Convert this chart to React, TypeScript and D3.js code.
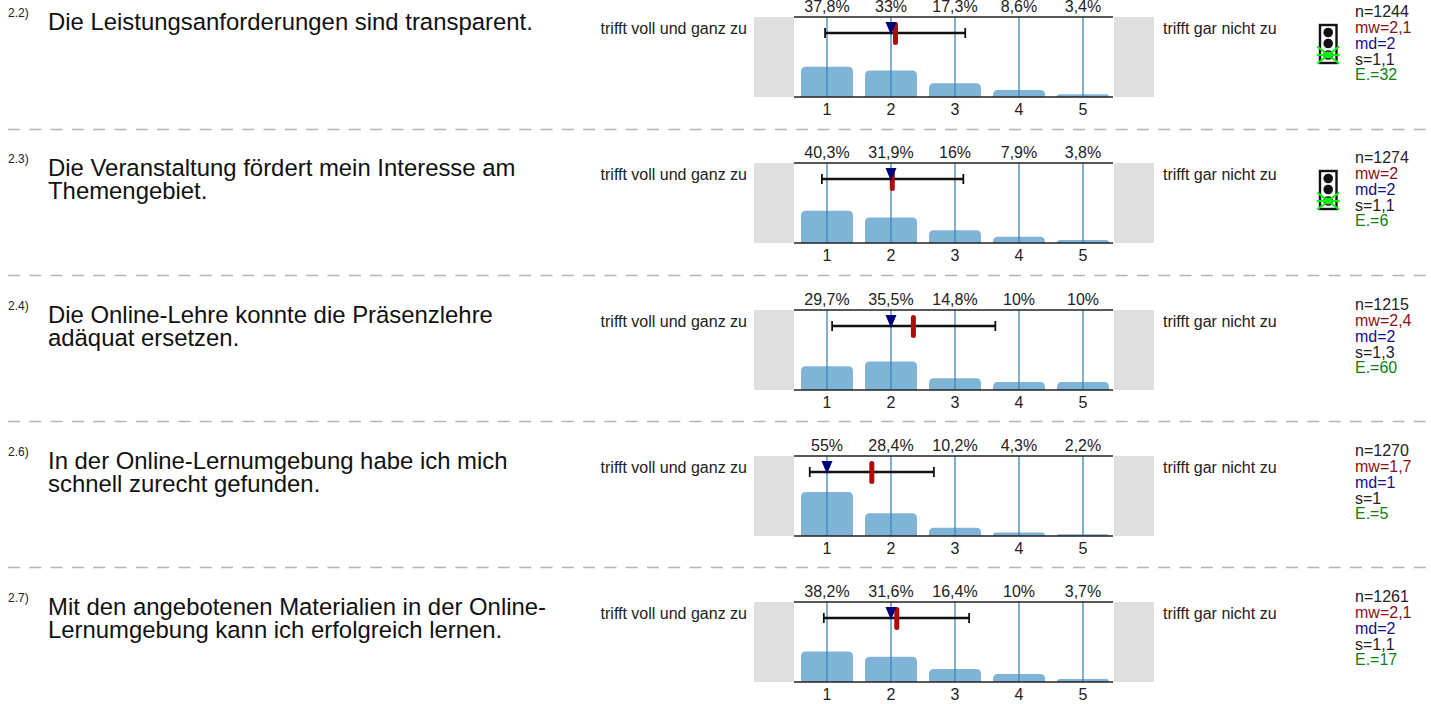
import { useEffect, useRef } from 'react'
import * as d3 from 'd3'

const ids = ['2.2)', '2.3)', '2.4)', '2.6)', '2.7)']
const questions = [
  ['Die Leistungsanforderungen sind transparent.'],
  ['Die Veranstaltung fördert mein Interesse am', 'Themengebiet.'],
  ['Die Online-Lehre konnte die Präsenzlehre', 'adäquat ersetzen.'],
  ['In der Online-Lernumgebung habe ich mich', 'schnell zurecht gefunden.'],
  ['Mit den angebotenen Materialien in der Online-', 'Lernumgebung kann ich erfolgreich lernen.'],
]
const percents = [
  [37.8, 33, 17.3, 8.6, 3.4],
  [40.3, 31.9, 16, 7.9, 3.8],
  [29.7, 35.5, 14.8, 10, 10],
  [55, 28.4, 10.2, 4.3, 2.2],
  [38.2, 31.6, 16.4, 10, 3.7],
]
const scaleValues = [1, 2, 3, 4, 5]
const means = [2.07, 2.02, 2.35, 1.7, 2.09]
const medians = [2, 2, 2, 1, 2]
const whiskerLow = [0.97, 0.92, 1.08, 0.73, 0.95]
const whiskerHigh = [3.16, 3.13, 3.63, 2.67, 3.22]
const nLabels = ['n=1244', 'n=1274', 'n=1215', 'n=1270', 'n=1261']
const mwLabels = ['mw=2,1', 'mw=2', 'mw=2,4', 'mw=1,7', 'mw=2,1']
const mdLabels = ['md=2', 'md=2', 'md=2', 'md=1', 'md=2']
const sLabels = ['s=1,1', 's=1,1', 's=1,3', 's=1', 's=1,1']
const eLabels = ['E.=32', 'E.=6', 'E.=60', 'E.=5', 'E.=17']
const showLight = [true, true, false, false, false]
const rowTops = [17, 163, 310, 456, 602]
const separators = [129, 275, 421, 567]

const FONT = '"Liberation Sans", Arial, sans-serif'

export default function App() {
  const svgRef = useRef<SVGSVGElement>(null)

  useEffect(() => {
    if (!svgRef.current) return
    const svg = d3.select(svgRef.current)
    svg.selectAll('*').remove()
    svg.style('font-family', FONT)

    const x = d3.scaleLinear().domain([1, 5]).range([827, 1083])
    const h = d3.scaleLinear().domain([0, 100]).range([0, 80])

    separators.forEach(y => {
      svg.append('line')
        .attr('x1', 8).attr('x2', 1431)
        .attr('y1', y + 0.5).attr('y2', y + 0.5)
        .attr('stroke', '#b4b4b4')
        .attr('stroke-width', 1.3)
        .attr('stroke-dasharray', '12 9.3')
    })

    rowTops.forEach((top, i) => {
      const g = svg.append('g').attr('transform', `translate(0,${top})`)
      const bottom = 80

      // question text
      g.append('text').attr('x', 8).attr('y', 0)
        .attr('font-size', 12).attr('fill', '#222').text(ids[i])
      questions[i].forEach((line, k) => {
        g.append('text').attr('x', 48).attr('y', 12.5 + k * 23.5)
          .attr('font-size', 23.9).attr('fill', '#111').text(line)
      })

      // pole labels
      g.append('text').attr('x', 747).attr('y', 16.5).attr('text-anchor', 'end')
        .attr('font-size', 16).attr('fill', '#222').text('trifft voll und ganz zu')
      g.append('text').attr('x', 1163).attr('y', 16.5)
        .attr('font-size', 16).attr('fill', '#222').text('trifft gar nicht zu')

      // grey side boxes
      g.append('rect').attr('x', 754).attr('y', 0).attr('width', 40).attr('height', bottom).attr('fill', '#dfdfdf')
      g.append('rect').attr('x', 1114).attr('y', 0).attr('width', 40).attr('height', bottom).attr('fill', '#dfdfdf')

      // bars
      percents[i].forEach((p, k) => {
        const bh = h(p)
        const bx = x(scaleValues[k]) - 26
        const r = Math.min(5, bh)
        g.append('path')
          .attr('d', `M${bx},${bottom}V${bottom - bh + r}Q${bx},${bottom - bh} ${bx + r},${bottom - bh}H${bx + 52 - r}Q${bx + 52},${bottom - bh} ${bx + 52},${bottom - bh + r}V${bottom}Z`)
          .attr('fill', '#80b4d6')
      })

      // vertical scale lines
      scaleValues.forEach(v => {
        g.append('line')
          .attr('x1', x(v)).attr('x2', x(v))
          .attr('y1', 0).attr('y2', bottom)
          .attr('stroke', '#3d85c0').attr('stroke-width', 1.3)
      })

      // top and bottom rules
      ;[0, bottom].forEach(y => {
        g.append('line').attr('x1', 794).attr('x2', 1113)
          .attr('y1', y).attr('y2', y)
          .attr('stroke', '#222').attr('stroke-width', 1.5)
      })

      // whisker
      const wy = 16
      g.append('line').attr('x1', x(whiskerLow[i])).attr('x2', x(whiskerHigh[i]))
        .attr('y1', wy).attr('y2', wy).attr('stroke', '#111').attr('stroke-width', 2.4)
      ;[whiskerLow[i], whiskerHigh[i]].forEach(v => {
        g.append('line').attr('x1', x(v)).attr('x2', x(v))
          .attr('y1', wy - 5).attr('y2', wy + 5)
          .attr('stroke', '#111').attr('stroke-width', 1.8)
      })

      // mean marker
      g.append('rect').attr('x', x(means[i]) - 2.5).attr('y', 5)
        .attr('width', 5).attr('height', 23).attr('rx', 2.5)
        .attr('fill', '#b00a0a')

      // median marker
      const mx = x(medians[i])
      g.append('path')
        .attr('d', `M${mx - 5.5},5L${mx + 5.5},5L${mx},18Z`)
        .attr('fill', '#00007a')

      // percentages and tick labels
      percents[i].forEach((p, k) => {
        g.append('text').attr('x', x(scaleValues[k])).attr('y', -5.2)
          .attr('text-anchor', 'middle').attr('font-size', 16).attr('fill', '#222')
          .text(`${p}%`.replace('.', ','))
        g.append('text').attr('x', x(scaleValues[k])).attr('y', bottom + 17.5)
          .attr('text-anchor', 'middle').attr('font-size', 16).attr('fill', '#222')
          .text(scaleValues[k])
      })

      // stats column
      const stats = [
        [nLabels[i], '#222'],
        [mwLabels[i], '#8b1010'],
        [mdLabels[i], '#101090'],
        [sLabels[i], '#222'],
        [eLabels[i], '#108010'],
      ]
      stats.forEach(([label, color], k) => {
        g.append('text').attr('x', 1355).attr('y', 0.2 + k * 15.8)
          .attr('font-size', 16).attr('fill', color).text(label)
      })

      // traffic light
      if (showLight[i]) {
        g.append('rect').attr('x', 1320).attr('y', 8).attr('width', 16.5).attr('height', 38)
          .attr('fill', '#fff').attr('stroke', '#111').attr('stroke-width', 2.4)
        ;[15.5, 26.5, 38].forEach(cy => {
          g.append('circle').attr('cx', 1328.2).attr('cy', cy).attr('r', 4.8).attr('fill', '#111')
        })
        const gx = 1328.2
        const gy = 38
        ;[
          [gx - 11, gy - 8.5, gx + 11, gy + 8.5],
          [gx - 11, gy + 8.5, gx + 11, gy - 8.5],
          [gx - 11.5, gy, gx + 11.5, gy],
        ].forEach(([x1, y1, x2, y2]) => {
          g.append('line').attr('x1', x1).attr('y1', y1).attr('x2', x2).attr('y2', y2)
            .attr('stroke', '#0cf00c').attr('stroke-width', 2.2)
        })
        g.append('circle').attr('cx', gx).attr('cy', gy).attr('r', 3.5).attr('fill', '#0cf00c')
      }
    })
  }, [])

  return (
    <svg
      ref={svgRef}
      width={1431}
      height={704}
      style={{ position: 'absolute', left: 0, top: 0, background: '#fff' }}
    />
  )
}
